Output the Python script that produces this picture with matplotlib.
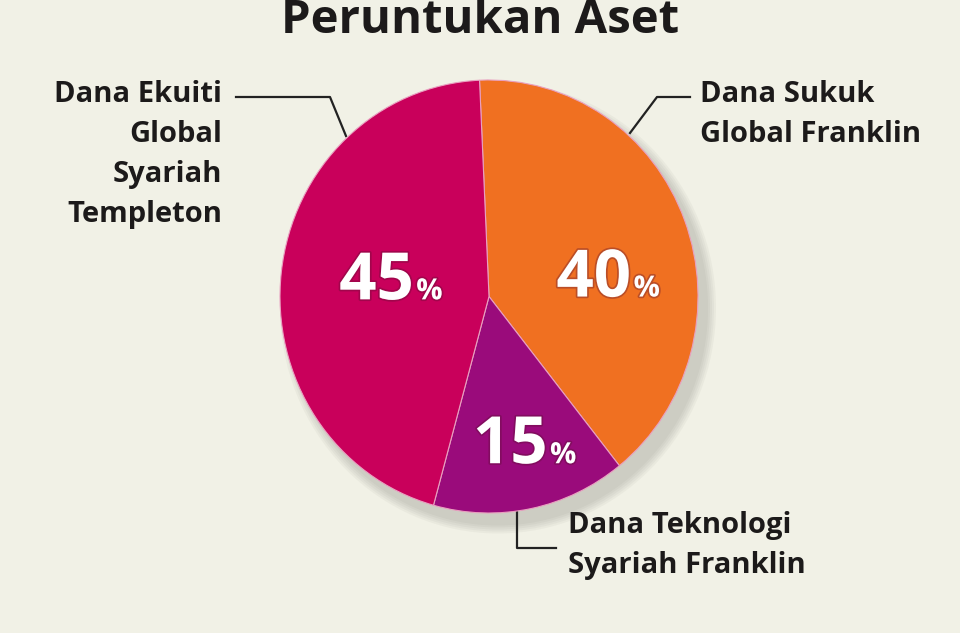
import numpy as np
import matplotlib
matplotlib.use("Agg")
import matplotlib.pyplot as plt
import matplotlib.patheffects as pe
from matplotlib.patches import Ellipse, Rectangle

plt.rcParams['font.family'] = ['Open Sans', 'DejaVu Sans']

# data
labels = ["Dana Sukuk\nGlobal Franklin",
          "Dana Teknologi\nSyariah Franklin",
          "Dana Ekuiti\nGlobal\nSyariah\nTempleton"]
shares = [40, 15, 45]
colors = ["#F07021", "#9A0B7B", "#C9005B"]

bg = "#F1F1E6"
fig = plt.figure(figsize=(9.6, 6.4), dpi=100)
fig.patch.set_facecolor(bg)

# overlay in pixel coords for title, leaders, labels
over = fig.add_axes([0, 0, 1, 1])
over.set_xlim(0, 960)
over.set_ylim(640, 0)
over.axis("off")
over.set_facecolor(bg)

# soft shadow behind the pie
for i in range(5):
    grow = 18 - i * 4
    over.add_patch(Ellipse((498, 308), 418 + grow, 433 + grow,
                           facecolor="#5e5e55", edgecolor="none", alpha=0.05, zorder=1))

# bottom white strip
over.add_patch(Rectangle((0, 633), 960, 8, facecolor="white", edgecolor="none", zorder=1))

over.text(480, 33, "Peruntukan Aset", ha="center", va="baseline",
          fontsize=34, fontweight="bold", color="#1c1a1a", zorder=5)

# pie
pie_ax = fig.add_axes([280 / 960, 1 - 513 / 640, 418 / 960, 433 / 640])
wedges, _ = pie_ax.pie(shares, colors=colors, startangle=92.6, counterclock=False,
                       wedgeprops=dict(linewidth=0.8, edgecolor="#e9a0c0"))
pie_ax.set_xlim(-1, 1)
pie_ax.set_ylim(-1, 1)
pie_ax.set_aspect("auto")
pie_ax.axis("off")
pie_ax.patch.set_alpha(0)

# percentage labels: big number + small %
pct_pos = [(0.68, 0.0), (0.28, -0.77), (-0.36, -0.013)]
fx = [pe.withStroke(linewidth=2.5, foreground="#5a1030", alpha=0.35)]
for v, (x, y) in zip(shares, pct_pos):
    pie_ax.text(x, y, str(v), ha="right", va="baseline", fontsize=47,
                fontweight="bold", color="white", path_effects=fx)
    pie_ax.text(x + 0.012, y, "%", ha="left", va="baseline", fontsize=21,
                fontweight="bold", color="white", path_effects=fx)

# leader lines
lc = "#222222"
over.plot([690, 657, 630], [97, 97, 133], color=lc, lw=1.6, zorder=5)
over.plot([236, 330, 346], [97, 97, 136], color=lc, lw=1.6, zorder=5)
over.plot([517, 517, 556], [510, 548, 548], color=lc, lw=1.6, zorder=5)

# category labels
tk = dict(fontsize=21, fontweight="bold", color="#1c1a1a", linespacing=1.5, zorder=5)
over.text(700, 80, labels[0], ha="left", va="top", **tk)
over.text(568, 511, labels[1], ha="left", va="top", **tk)
over.text(222, 80, labels[2], ha="right", va="top", multialignment="right", **tk)

fig.savefig("out.png", dpi=100, facecolor=bg)
